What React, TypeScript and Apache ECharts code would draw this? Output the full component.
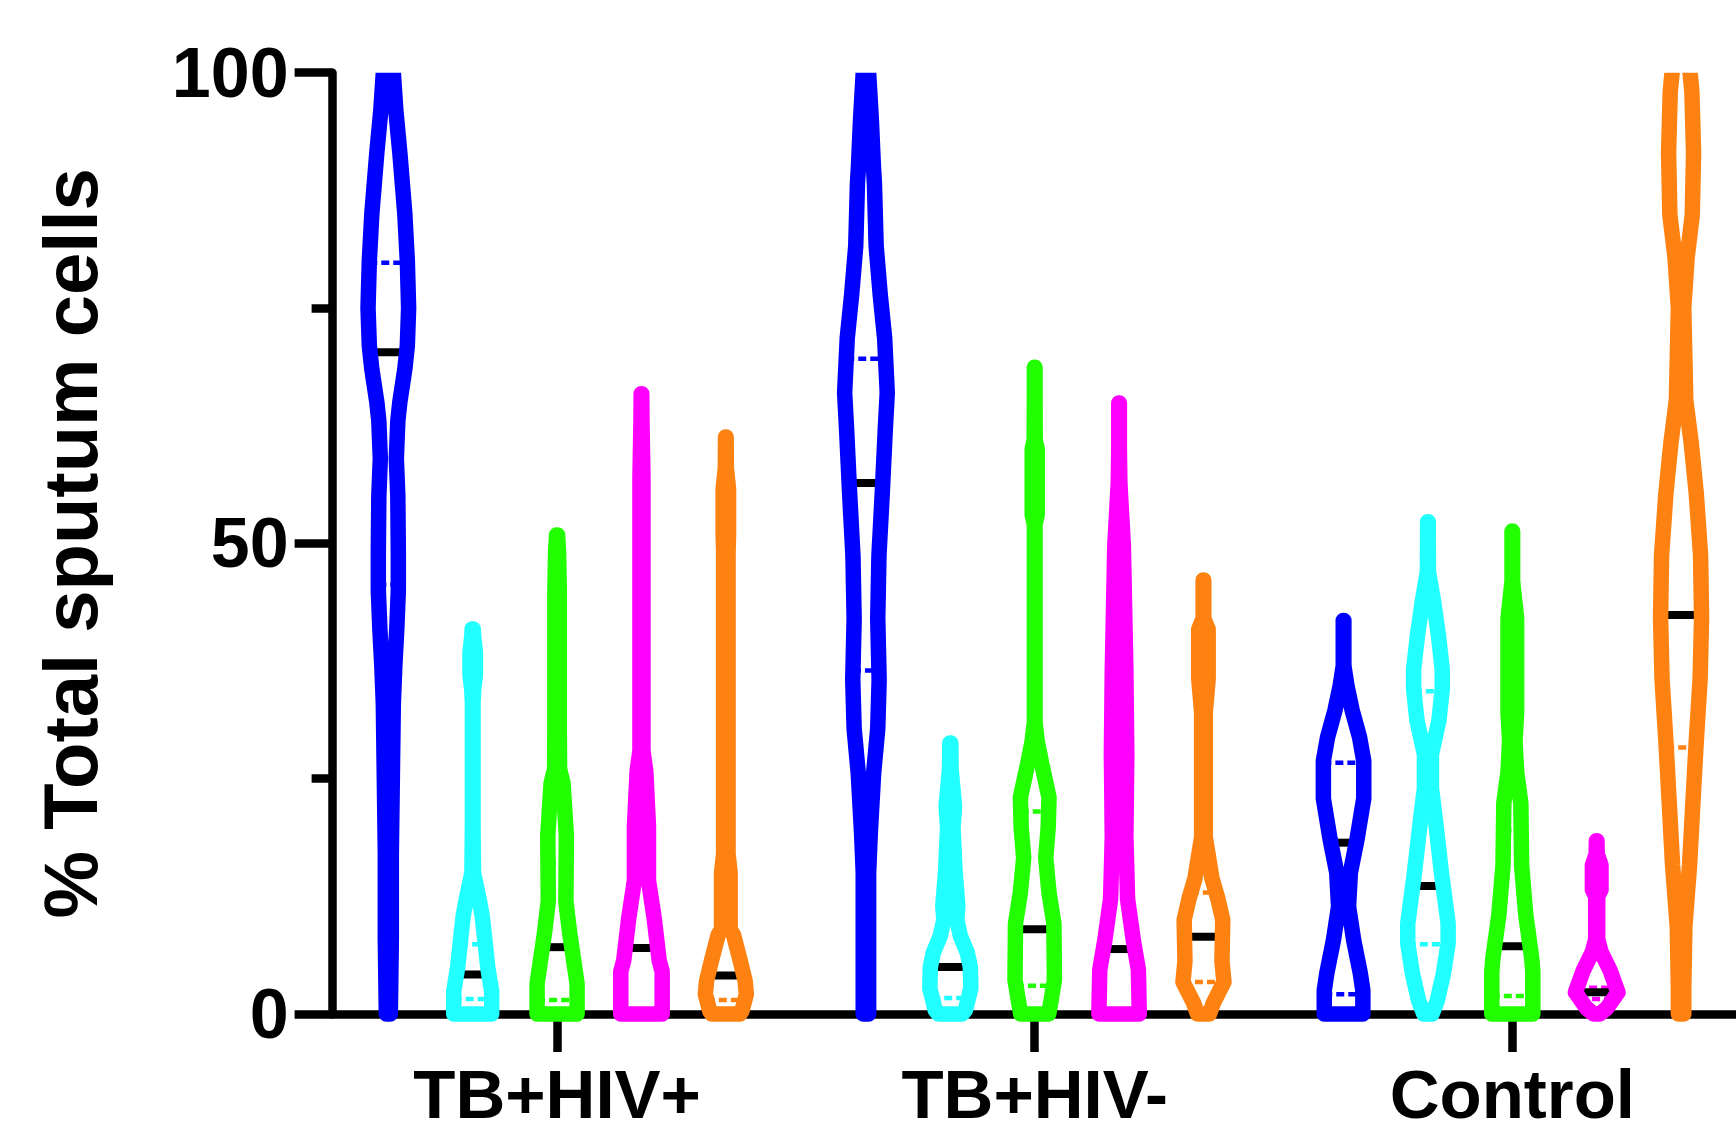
import React, { useEffect, useRef } from "react";
import * as echarts from "echarts";

// ---- categories / series ----
const groupNames = ["TB+HIV+", "TB+HIV-", "Control"];
const seriesNames = ["Blue", "Cyan", "Green", "Magenta", "Orange"];
const seriesColors = ["#0000ff", "#21ffff", "#21ff00", "#ff00ff", "#fd8212"];

// ---- y axis ticks ----
const yTicks = [0, 50, 100];

// ---- violin outlines: [% total sputum cells, half-width (density units)] ----
const tbHivPosBlue = [[104, 4], [100, 5], [96, 7.5], [91.5, 11.5], [85, 16.5], [80, 19], [75, 20.3], [71, 19], [68.5, 16.5], [65, 11.5], [63, 9.5], [59, 8], [55, 9.5], [49, 10], [45, 10], [41, 8.5], [37, 6.5], [33, 5], [25, 4], [17, 3], [8, 3], [0, 2]];
const tbHivPosCyan = [[40.9, 0.5], [40, 1], [38.5, 2.7], [36, 2.7], [34.5, 1], [33, 0.3], [20, 0.3], [15, 0.8], [12, 6.8], [10.4, 9.5], [8.5, 11.5], [5, 15], [2.4, 19], [0, 19]];
const tbHivPosGreen = [[50.9, 0.5], [49, 1.5], [45, 2.2], [30, 2.2], [26, 2.5], [24.5, 6], [19, 9.3], [12, 8.8], [8.5, 12.7], [4.9, 17.7], [3.2, 20], [0, 20]];
const tbHivPosMagenta = [[65.9, 0.3], [63, 0.5], [57, 1.5], [28, 1.5], [25.8, 4.3], [20, 7], [14.2, 7], [10.2, 12.7], [5.7, 17.7], [4.5, 20.7], [0, 20.7]];
const tbHivPosOrange = [[61.3, 0.3], [58, 0.5], [55.8, 2.7], [51, 2.7], [49, 2.2], [17, 2.2], [15, 4.3], [9, 4.3], [8.4, 7.7], [5.7, 14.3], [3.5, 19.3], [2.1, 20.5], [0.3, 16], [0, 14]];

const tbHivNegBlue = [[104, 2.7], [100, 2.7], [94.8, 5.5], [90, 7.5], [88.2, 8.5], [81.6, 10.2], [76.4, 14.3], [71.8, 18.7], [66, 21.3], [62, 19.3], [55.3, 16.3], [48.7, 13], [42, 11.8], [35.5, 13.2], [30.3, 11.8], [25.6, 7.7], [19.1, 4.3], [15, 2.7], [0, 2.7]];
const tbHivNegCyan = [[28.8, 0.5], [26, 0.8], [22.1, 4.2], [19.8, 2.7], [15.2, 4.7], [11.5, 7.5], [10, 6.5], [8.3, 10], [6.5, 17], [5, 20], [2.7, 20.5], [0.4, 15], [0, 12]];
const tbHivNegGreen = [[68.7, 0.3], [66, 0.3], [61, 0.5], [60, 2.5], [53, 2.5], [52, 0.3], [31, 0.3], [29, 2.5], [26.7, 6.8], [23, 14.3], [19.8, 13.5], [16.6, 11], [12.9, 14.3], [9.6, 19.2], [3.6, 19.7], [1.4, 16.3], [0, 14]];
const tbHivNegMagenta = [[64.9, 0.3], [60, 0.3], [56.4, 0.8], [49.7, 4.3], [36.5, 6.8], [27.7, 7.7], [18.8, 6.8], [12.2, 8.5], [7.8, 14.3], [4.7, 19.3], [0, 20.2]];
const tbHivNegOrange = [[46.1, 0.3], [42, 0.3], [40.9, 4.7], [35.6, 4.7], [32, 1.8], [18.8, 1.8], [14.4, 8.5], [12.3, 14.3], [10, 19.3], [5.6, 18.5], [3.4, 20.5], [1.2, 10], [0, 6]];

const controlBlue = [[41.8, 0.3], [37, 0.3], [34.8, 3.5], [32.3, 8.5], [29.4, 16], [26.9, 20.2], [22.9, 20.2], [18.6, 13.5], [15, 6.8], [11.4, 5], [7.8, 10.2], [4.3, 16.8], [2.5, 19.3], [0, 19.3]];
const controlCyan = [[52.3, 0.3], [47, 0.5], [43.8, 5.7], [40.2, 10.5], [36.6, 14.3], [34.5, 14.3], [31.2, 11], [27.6, 3.5], [24, 3.5], [20.4, 7.7], [15, 13.5], [9.6, 20.2], [7.5, 20.2], [4.3, 15.5], [1.4, 9.3], [0, 4]];
const controlGreen = [[51.3, 0.3], [46, 0.3], [42, 4.3], [32, 4.3], [29, 2.7], [25.7, 4.3], [22.4, 8.5], [15.8, 9.3], [10.5, 13.5], [6, 19.3], [4.5, 20.5], [0, 20.5]];
const controlMagenta = [[18.4, 0.3], [17, 0.5], [15.8, 4.3], [13.2, 4.3], [12.5, 1], [7.9, 1], [6.6, 4.3], [4.6, 13.5], [2.3, 21.3], [0.6, 10], [0, 3]];
const controlOrange = [[104, 7.5], [100, 9], [98, 10.8], [91.5, 12.5], [84.9, 11.2], [80.3, 6], [75, 2.7], [65.2, 4.7], [60.6, 10.2], [55.3, 15.2], [48.7, 19.5], [42.1, 20.5], [35.5, 19], [29, 15.2], [22.4, 11.8], [15.8, 8.5], [9.3, 3.8], [2.7, 2.7], [0, 2.7]];

// ---- summary lines (per group, in series order) ----
const mediansTbHivPos = [70.3, 4.2, 7.1, 7.0, 4.1];
const mediansTbHivNeg = [56.4, 5.0, 9.0, 6.9, 8.2];
const mediansControl = [18.2, 13.6, 7.2, 2.3, 42.4];
const upperQuartilesTbHivPos = [79.8, 7.4, 16.0, 17.8, 9.0];
const upperQuartilesTbHivNeg = [69.6, 10.5, 21.5, 30.7, 12.9];
const upperQuartilesControl = [26.7, 34.3, 19.5, 2.8, 80.5];
const lowerQuartilesTbHivPos = [45.6, 1.6, 1.5, 0.3, 1.5];
const lowerQuartilesTbHivNeg = [36.5, 1.7, 3.0, 0.3, 3.4];
const lowerQuartilesControl = [2.1, 7.4, 1.9, 1.6, 28.3];

const violinProfiles = [
  [tbHivPosBlue, tbHivPosCyan, tbHivPosGreen, tbHivPosMagenta, tbHivPosOrange],
  [tbHivNegBlue, tbHivNegCyan, tbHivNegGreen, tbHivNegMagenta, tbHivNegOrange],
  [controlBlue, controlCyan, controlGreen, controlMagenta, controlOrange],
];
const medians = [mediansTbHivPos, mediansTbHivNeg, mediansControl];
const upperQuartiles = [upperQuartilesTbHivPos, upperQuartilesTbHivNeg, upperQuartilesControl];
const lowerQuartiles = [lowerQuartilesTbHivPos, lowerQuartilesTbHivNeg, lowerQuartilesControl];

// ---- layout ----
const GROUP_CENTERS = [3, 9, 15];
const VIOLIN_OFFSET = 1.06;
const WIDTH_SCALE = 1 / 79.6;
const FONT = "'Liberation Sans', Arial, Helvetica, sans-serif";

function halfWidthAt(prof: number[][], v: number): number {
  if (v <= prof[0][0]) return prof[0][1];
  for (let i = 1; i < prof.length; i++) {
    if (v <= prof[i][0]) {
      const [v0, w0] = prof[i - 1];
      const [v1, w1] = prof[i];
      const t = (v - v0) / (v1 - v0 || 1);
      return w0 + t * (w1 - w0);
    }
  }
  return prof[prof.length - 1][1];
}

function renderViolin(params: any, api: any) {
  const g = params.dataIndex;
  const k = params.seriesIndex;
  const color = seriesColors[k];
  const prof = violinProfiles[g][k].slice().sort((a, b) => a[0] - b[0]);
  const cx = api.value(0);
  const right = prof.map((p) => api.coord([cx + p[1] * WIDTH_SCALE, p[0]]));
  const left = prof
    .slice()
    .reverse()
    .map((p) => api.coord([cx - p[1] * WIDTH_SCALE, p[0]]));
  const hline = (v: number, style: any) => {
    const hw = halfWidthAt(prof, v);
    const a = api.coord([cx - hw * WIDTH_SCALE, v]);
    const b = api.coord([cx + hw * WIDTH_SCALE, v]);
    return { type: "line", shape: { x1: a[0], y1: a[1], x2: b[0], y2: b[1] }, style };
  };
  const topY = api.coord([cx, 100])[1];
  const dashStyle = { stroke: color, lineWidth: 4.5, lineDash: [8, 4], fill: null };
  const children = [
    hline(upperQuartiles[g][k], dashStyle),
    hline(lowerQuartiles[g][k], dashStyle),
    hline(medians[g][k], { stroke: "#000", lineWidth: 8, fill: null }),
    {
      type: "polygon",
      shape: { points: right.concat(left) },
      style: { fill: "none", stroke: color, lineWidth: 15.5, lineJoin: "round" },
    },
  ];
  return {
    type: "group",
    clipPath: { type: "rect", shape: { x: 0, y: topY, width: 5000, height: 5000 } },
    children,
  };
}

export default function App() {
  const ref = useRef<HTMLDivElement>(null);
  useEffect(() => {
    const chart = echarts.init(ref.current!, null, { renderer: "svg" });
    const series = seriesNames.map((name, k) => ({
      name,
      type: "custom",
      coordinateSystem: "cartesian2d",
      clip: false,
      renderItem: renderViolin,
      encode: { x: 0, y: 1 },
      data: GROUP_CENTERS.map((c, g) => [c + (k - 2) * VIOLIN_OFFSET, medians[g][k]]),
    }));
    chart.setOption({
      animation: false,
      backgroundColor: "#ffffff",
      grid: { left: 332.6, right: 0, top: 72.7, bottom: 120, containLabel: false },
      xAxis: {
        type: "value",
        min: 0.18,
        max: 17.81,
        axisLine: { show: true, onZero: false, lineStyle: { color: "#000", width: 8.5 } },
        axisTick: {
          show: true,
          customValues: GROUP_CENTERS,
          length: 38,
          lineStyle: { color: "#000", width: 8.5 },
        },
        axisLabel: {
          customValues: GROUP_CENTERS,
          formatter: (v: number) => groupNames[GROUP_CENTERS.indexOf(v)] ?? "",
          fontSize: 69,
          lineHeight: 64,
          fontWeight: "bold",
          fontFamily: FONT,
          color: "#000",
          margin: 48,
        },
        splitLine: { show: false },
      },
      yAxis: {
        type: "value",
        min: yTicks[0],
        max: yTicks[yTicks.length - 1],
        interval: 50,
        name: "% Total sputum cells",
        nameLocation: "middle",
        nameGap: 224,
        nameTextStyle: { fontSize: 76, fontWeight: "bold", fontFamily: FONT, color: "#000" },
        axisLine: { show: true, lineStyle: { color: "#000", width: 8.5 } },
        axisTick: { show: true, length: 38, lineStyle: { color: "#000", width: 8.5 } },
        minorTick: { show: true, splitNumber: 2, length: 21, lineStyle: { color: "#000", width: 8.5 } },
        axisLabel: {
          fontSize: 70,
          fontWeight: "bold",
          fontFamily: FONT,
          color: "#000",
          margin: 44,
        },
        splitLine: { show: false },
        minorSplitLine: { show: false },
      },
      series,
    });
    return () => chart.dispose();
  }, []);
  return (
    <div
      ref={ref}
      style={{ position: "fixed", left: 0, top: 0, width: 1736, height: 1134, background: "#fff" }}
    />
  );
}
